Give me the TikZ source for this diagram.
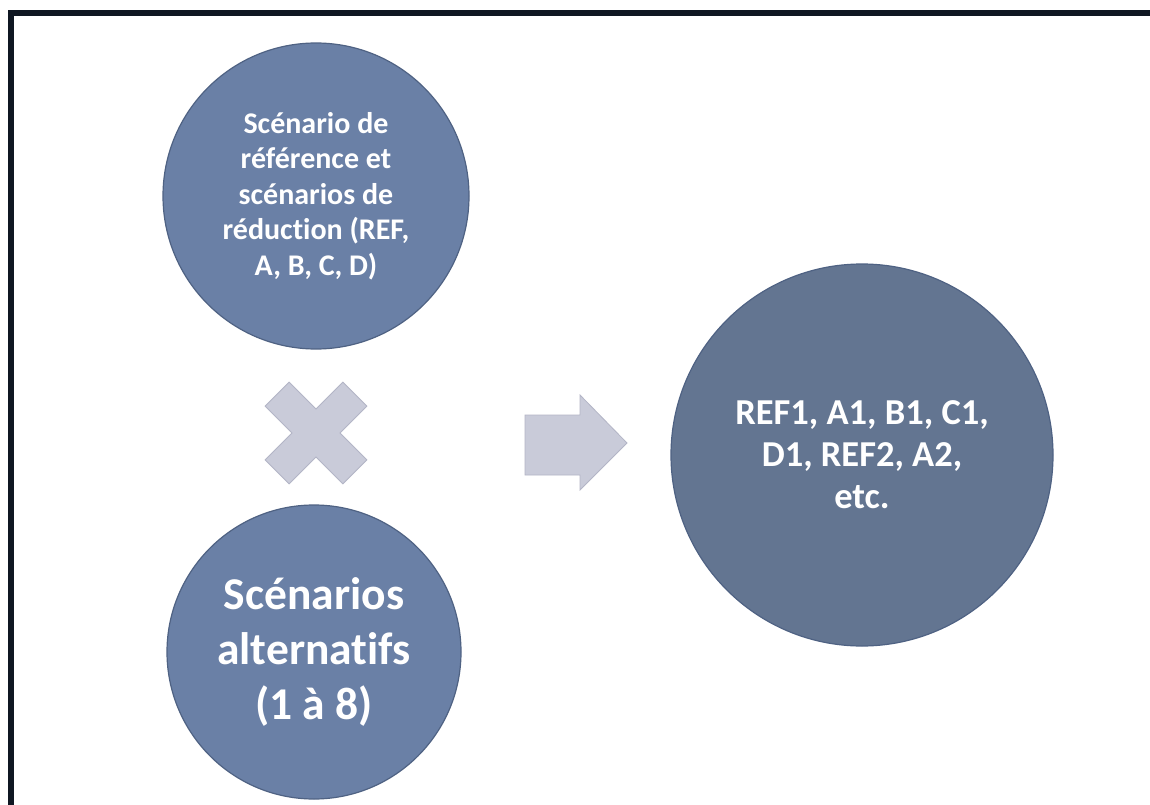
\documentclass[tikz,border=0pt]{standalone}
\usepackage{fontspec}
\setmainfont{Carlito}[Ligatures={NoCommon}]
\definecolor{frame}{HTML}{0F1722}
\definecolor{circA}{HTML}{6A80A6}
\definecolor{circB}{HTML}{637591}
\definecolor{circEdge}{HTML}{4F6283}
\definecolor{symb}{HTML}{C9CBD9}
\definecolor{symbEdge}{HTML}{B3B5C6}
\tikzset{
  bubble/.style={circle, inner sep=0pt, draw=circEdge, line width=1.2pt, text=white, align=center, font=\bfseries},
  symbol/.style={fill=symb, draw=symbEdge, line width=0.8pt, line join=miter}
}
\begin{document}
\begin{tikzpicture}[x=1pt,y=-1pt]
\useasboundingbox (0,0) rectangle (1150,805);
\fill[white] (0,0) rectangle (1150,805);
\begin{scope}
\clip (0,0) rectangle (1150,805);
\draw[frame, line width=6pt] (11,13) rectangle (1170,830);
\end{scope}
% circles
\node[bubble, fill=circA, minimum size=306pt, font=\bfseries\fontsize{30}{35.5}\selectfont] (ref) at (316,196)
  {Scénario de\\référence et\\scénarios de\\réduction (REF,\\A, B, C, D)};
\node[bubble, fill=circA, minimum size=294pt, font=\bfseries\fontsize{45.5}{55}\selectfont] (alt) at (314,652)
  {Scénarios\\alternatifs\\(1 à 8)};
\node[bubble, fill=circB, minimum size=382pt, font=\bfseries\fontsize{36.5}{42}\selectfont] (res) at (862,455)
  {REF1, A1, B1, C1,\\D1, REF2, A2,\\etc.};
% cross
\begin{scope}[shift={(316,433)}, rotate=45]
\draw[symbol] (-17,-55) -- (17,-55) -- (17,-17) -- (55,-17) -- (55,17) -- (17,17)
  -- (17,55) -- (-17,55) -- (-17,17) -- (-55,17) -- (-55,-17) -- (-17,-17) -- cycle;
\end{scope}
% arrow
\draw[symbol] (525,415) -- (580,415) -- (580,395) -- (627,443) -- (580,490) -- (580,475) -- (525,475) -- cycle;
\end{tikzpicture}
\end{document}
